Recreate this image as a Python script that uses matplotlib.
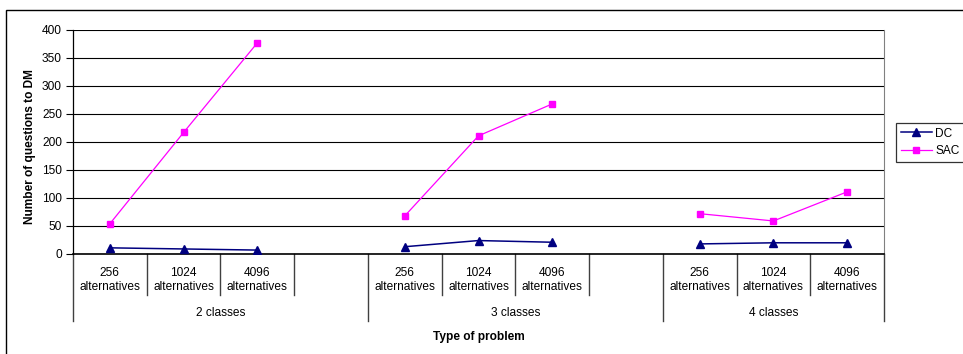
import numpy as np
from matplotlib import pyplot as plt
from matplotlib.patches import Rectangle

plt.rcParams['font.family'] = ['Liberation Sans', 'DejaVu Sans']

# number of questions per problem type
groups = ['2 classes', '3 classes', '4 classes']
sizes = ['256\nalternatives', '1024\nalternatives', '4096\nalternatives']
dc = [[11, 9, 7], [13, 24, 21], [18, 20, 20]]
sac = [[54, 217, 377], [68, 211, 268], [72, 59, 111]]

fig = plt.figure(figsize=(9.63, 3.54), dpi=100)
W, H = 963, 354
ax = fig.add_axes([73 / W, 100 / H, 811 / W, 224 / H])

# outer chart frame (left and top edges only visible)
fig.patches.append(Rectangle((6 / W, -0.2), 1.5, 1.2 - 9.5 / H, transform=fig.transFigure,
                             fill=False, edgecolor='black', linewidth=1))

fs = 8.6
n_slots = 4
for g in range(len(groups)):
    x = np.arange(len(sizes)) + g * n_slots
    ax.plot(x, dc[g], color='#000080', marker='^', markersize=5.5, linewidth=1.1,
            label='DC' if g == 0 else None, zorder=3)
    ax.plot(x, sac[g], color='#FF00FF', marker='s', markersize=4.8, linewidth=0.9,
            label='SAC' if g == 0 else None, zorder=3)

n_cat = n_slots * (len(groups) - 1) + len(sizes)
ax.set_xlim(-0.5, n_cat - 0.5)
ax.set_ylim(0, 400)
ax.set_yticks(range(0, 401, 50))
ax.yaxis.grid(True, color='black', linewidth=0.8)
ax.set_axisbelow(True)
ax.tick_params(axis='y', labelsize=fs, length=5, width=0.8, pad=3)
ax.set_xticks([])
ax.spines['top'].set_visible(False)
ax.spines['right'].set_color('#808080')
ax.spines['left'].set_linewidth(0.9)
ax.spines['bottom'].set_linewidth(1.2)

# multi-level category axis
tr = ax.get_xaxis_transform()
short, long_ = -41 / 224, -67 / 224
for k in range(n_cat + 1):
    edge = k - 0.5
    ylow = long_ if k % n_slots == 0 or k == n_cat else short
    ax.plot([edge, edge], [0, ylow], transform=tr, color='#404040', linewidth=1, clip_on=False)
for g, name in enumerate(groups):
    for i, s in enumerate(sizes):
        ax.text(g * n_slots + i, -0.058, s, transform=tr, ha='center', va='top',
                fontsize=fs, linespacing=1.25)
    last = min(g * n_slots + n_slots, n_cat)
    ax.text((g * n_slots + last - 1) / 2, -0.262, name, transform=tr, ha='center',
            va='center', fontsize=fs)

ax.text(0.5, -0.37, 'Type of problem', transform=ax.transAxes, ha='center',
        va='center', fontsize=fs, fontweight='bold')
ax.set_ylabel('Number of questions to DM', fontsize=fs, fontweight='bold')
ax.yaxis.set_label_coords(-0.046, 0.478)

leg = ax.legend(loc='center left', bbox_to_anchor=(896 / W, 1 - 142.5 / H),
                bbox_transform=fig.transFigure, fontsize=fs, frameon=True, fancybox=False,
                handlelength=2.6, handletextpad=0.3, borderpad=0.4, labelspacing=0.5,
                borderaxespad=0)
leg.get_frame().set_edgecolor('black')
leg.get_frame().set_linewidth(0.9)

fig.savefig('out.png', dpi=100)
